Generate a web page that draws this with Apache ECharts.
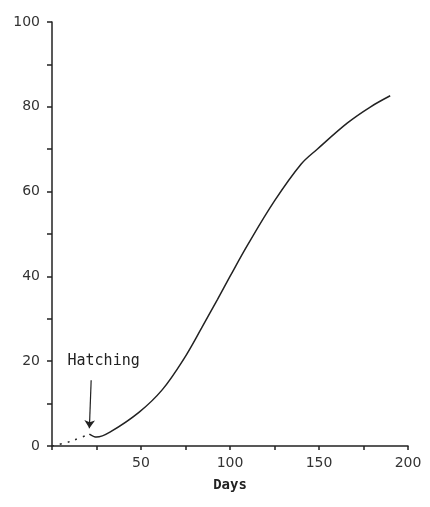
<!DOCTYPE html>
<html>
<head>
<meta charset="utf-8">
<script src="https://cdn.jsdelivr.net/npm/echarts@6/dist/echarts.min.js"></script>
<style>
  html, body { margin: 0; padding: 0; background: #fff; }
  #growth_chart { width: 430px; height: 507px; }
</style>
</head>
<body>
<div id="growth_chart"></div>
<script>
// days / value
var daysBefore = [0, 8, 15, 21];
var valBefore = [0, 0.8, 1.8, 2.8];
var days = [21, 25, 33, 49, 62, 74, 84, 93, 100, 110, 125, 140, 149, 166, 179, 190];
var values = [2.8, 2.1, 3.4, 8, 13.3, 20.5, 27.8, 34.6, 40, 47.5, 57.8, 66.5, 70, 76.2, 80, 82.6];
var hatchAt = [21, 2.8];
var hatchText = "Hatching";
var xTicks = [0, 50, 100, 150, 200];
var yTicks = [0, 20, 40, 60, 80, 100];

var growth_chart = echarts.init(document.getElementById("growth_chart"));

function pairs(xs, ys) {
  return xs.map(function (x, i) { return [x, ys[i]]; });
}

var option = {
  animation: false,
  grid: { left: 52, right: 22, top: 22, bottom: 61 },
  xAxis: {
    type: "value",
    min: xTicks[0],
    max: xTicks[xTicks.length - 1],
    interval: 50,
    name: "Days",
    nameLocation: "middle",
    nameGap: 32,
    nameTextStyle: { color: "#222", fontFamily: "DejaVu Sans Mono", fontSize: 14, fontWeight: "bold" },
    axisLine: { lineStyle: { color: "#222", width: 1.5 } },
    axisTick: { show: true, length: 4, lineStyle: { color: "#222", width: 1.5 } },
    minorTick: { show: true, splitNumber: 2, length: 4, lineStyle: { color: "#222", width: 1.5 } },
    splitLine: { show: false },
    axisLabel: {
      color: "#333", fontFamily: "DejaVu Sans", fontSize: 14, margin: 10,
      formatter: function (v) { return v === 0 ? "" : v; }
    }
  },
  yAxis: {
    type: "value",
    min: yTicks[0],
    max: yTicks[yTicks.length - 1],
    interval: 20,
    axisLine: { show: true, lineStyle: { color: "#222", width: 1.5 } },
    axisTick: { show: true, length: 5, lineStyle: { color: "#222", width: 1.5 } },
    minorTick: { show: true, splitNumber: 2, length: 5, lineStyle: { color: "#222", width: 1.5 } },
    splitLine: { show: false },
    axisLabel: { color: "#333", fontFamily: "DejaVu Sans", fontSize: 14, margin: 12 }
  },
  series: [
    {
      // before hatching, dotted
      type: "line",
      data: pairs(daysBefore, valBefore),
      smooth: true,
      showSymbol: false,
      lineStyle: { color: "#222", width: 1.5, type: [2, 6] },
      markLine: {
        silent: true,
        symbol: ["none", "arrow"],
        symbolSize: 8,
        lineStyle: { color: "#222", width: 1.2, type: "solid" },
        label: { show: false },
        data: [[{ coord: [hatchAt[0] + 1, 15.5] }, { coord: [hatchAt[0], hatchAt[1] + 1.4] }]]
      },
      markPoint: {
        silent: true,
        symbol: "circle",
        symbolSize: 0,
        label: {
          show: true,
          position: "inside",
          formatter: hatchText,
          color: "#222",
          fontFamily: "DejaVu Sans Mono",
          fontSize: 15
        },
        data: [{ coord: [29, 20] }]
      }
    },
    {
      type: "line",
      data: pairs(days, values),
      smooth: 0.35,
      showSymbol: false,
      lineStyle: { color: "#222", width: 1.5 }
    }
  ]
};

growth_chart.setOption(option);
</script>
</body>
</html>
